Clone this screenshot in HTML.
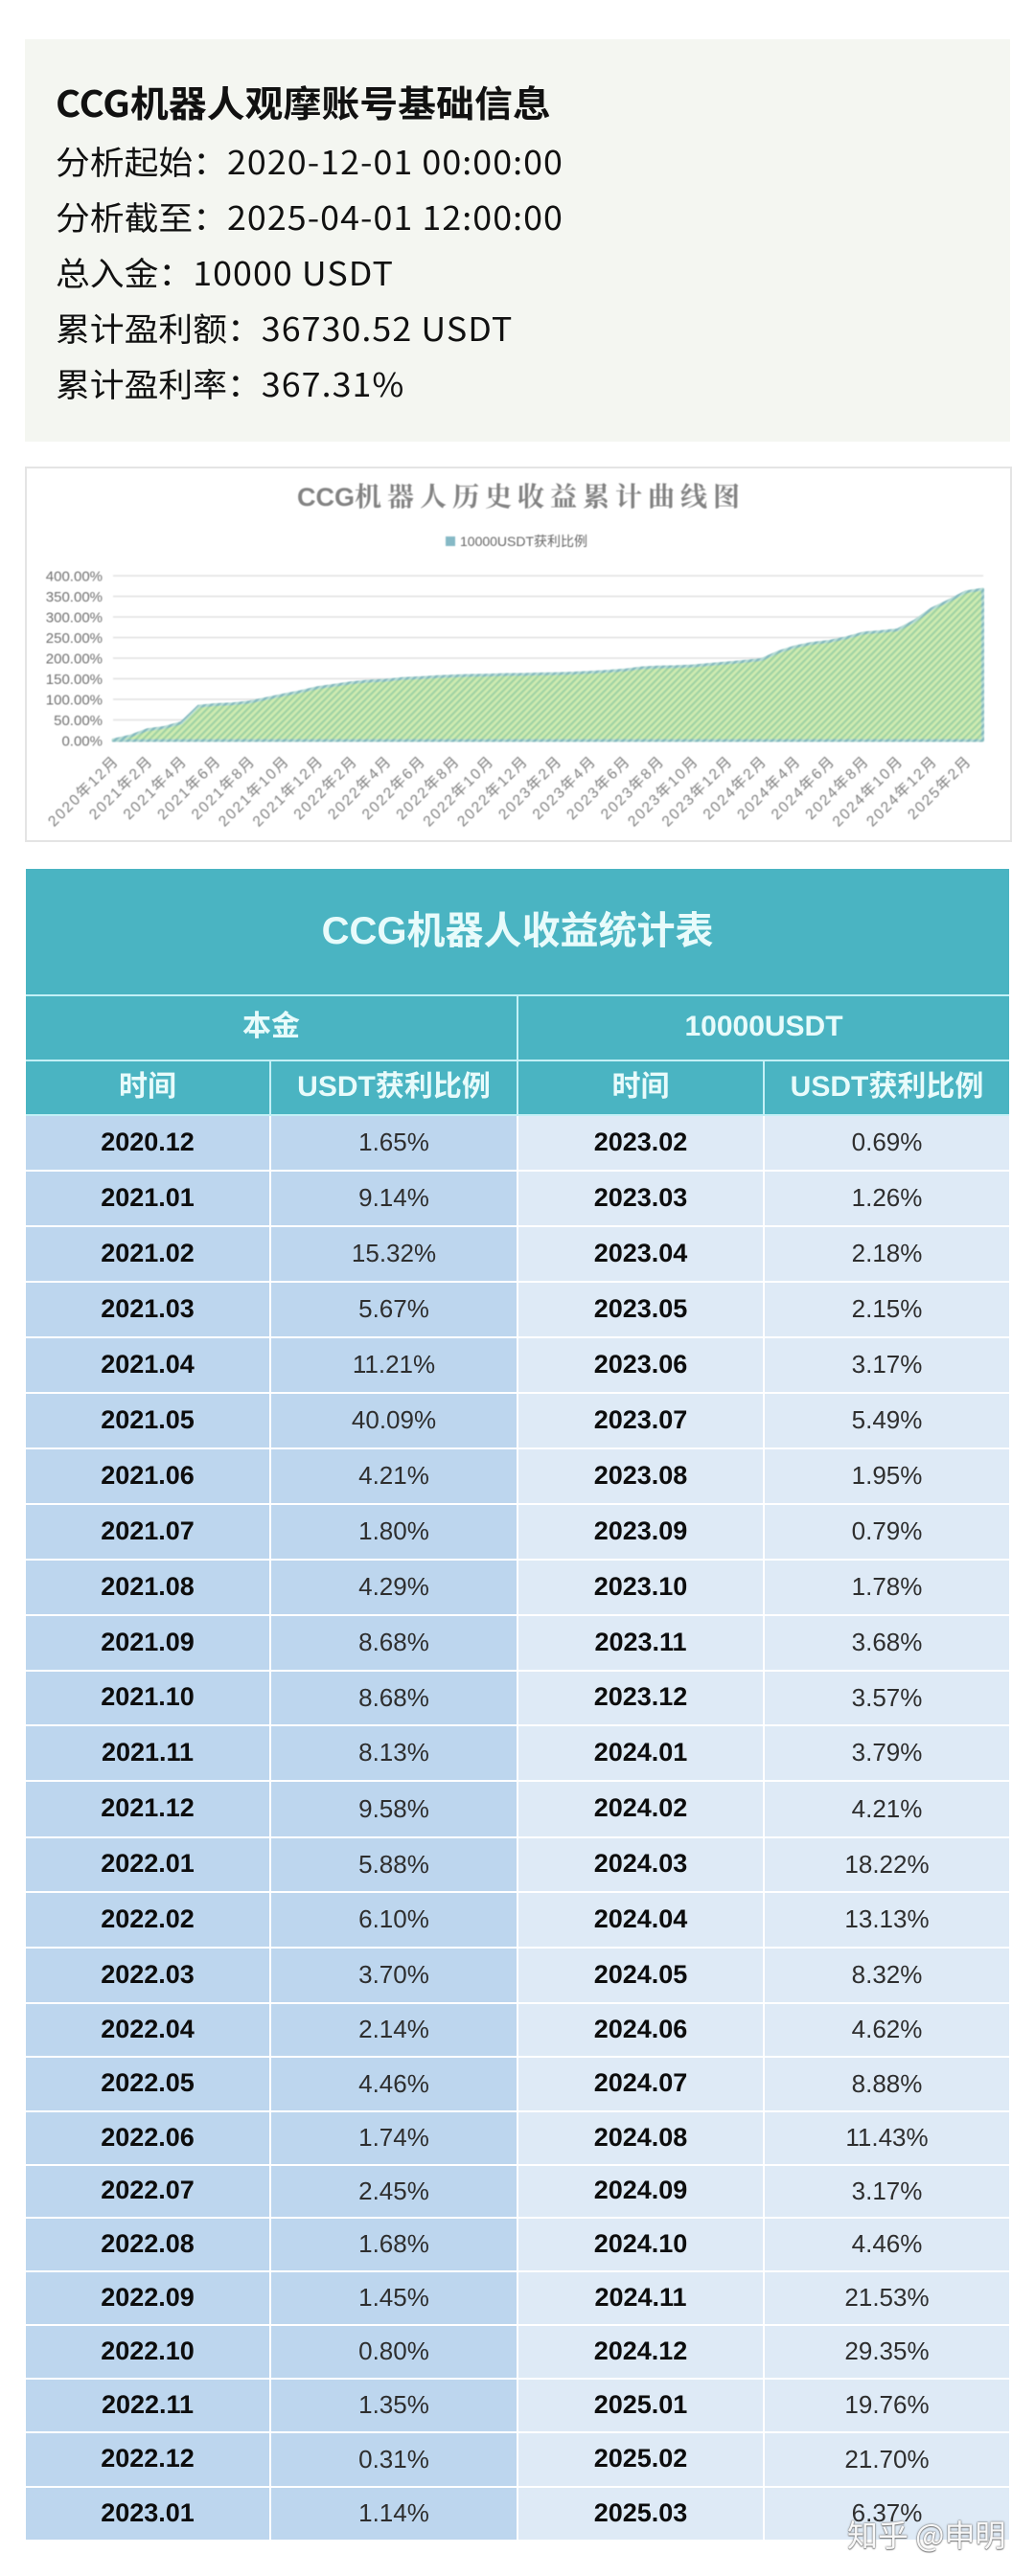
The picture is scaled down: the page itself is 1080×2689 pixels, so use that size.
<!DOCTYPE html>
<html lang="zh-CN">
<head>
<meta charset="utf-8">
<title>CCG机器人收益统计</title>
<style>
html,body{margin:0;padding:0;background:#fff;}
body{width:1080px;height:2689px;position:relative;overflow:hidden;font-family:"Liberation Sans","Noto Sans CJK SC",sans-serif;}
#info-panel{position:absolute;left:26px;top:41px;width:1028px;height:420px;background:#f4f6f1;}
.info-line{position:absolute;left:57.5px;height:50px;line-height:50px;white-space:nowrap;color:#111;font-family:"Noto Sans CJK SC",sans-serif;font-size:34px;transform:scaleX(1.053);transform-origin:left center;filter:blur(.3px);}
.info-line .n{letter-spacing:1px;}
#info-title{font-size:38px;font-weight:700;transform:scaleX(1.05);}
#chart-panel{position:absolute;left:26px;top:487px;width:1026px;height:388px;border:2px solid #e4e4e4;background:#fff;box-sizing:content-box;}
#chart-svg{position:absolute;left:0;top:0;filter:blur(.5px);}
#stats-table{position:absolute;left:27px;top:907px;width:1026px;border-collapse:collapse;table-layout:fixed;}
#stats-table td{padding:0 0 2px 0;text-align:center;vertical-align:middle;border:2px solid #fff;line-height:1;}
#stats-table tr:first-child td{border-top:0;}
#stats-table tr:last-child td{border-bottom:0;}
#stats-table td:first-child{border-left:0;}
#stats-table td:last-child{border-right:0;}
#stats-table .h{background:#4ab4c2;color:#e8fbfb;font-weight:700;font-size:30px;border-color:#c3f0f6;}
#stats-table .t{font-size:40px;}
.dd,.dv{background:#bdd6ee;}
.ld,.lv{background:#deeaf6;}
#stats-table .dd,#stats-table .ld{font-weight:700;font-size:27px;color:#0d0d0d;}
#stats-table .dv,#stats-table .lv{font-size:26px;color:#2e2e2e;}
#watermark{position:absolute;left:884px;top:2624px;font-family:"Noto Sans CJK SC",sans-serif;font-size:32px;line-height:42px;color:rgba(255,255,255,.95);text-shadow:0 0 2px #6f6f6f,0 0 1px #6f6f6f,0 1px 1px #8a8a8a;white-space:nowrap;}
</style>
</head>
<body>

<section id="info-panel"></section>
<div class="info-line" id="info-title" style="top:81px">CCG机器人观摩账号基础信息</div>
<div class="info-line" style="top:143px">分析起始：<span class="n">2020-12-01 00:00:00</span></div>
<div class="info-line" style="top:201px">分析截至：<span class="n">2025-04-01 12:00:00</span></div>
<div class="info-line" style="top:259px">总入金：<span class="n">10000 USDT</span></div>
<div class="info-line" style="top:317px">累计盈利额：<span class="n">36730.52 USDT</span></div>
<div class="info-line" style="top:375px">累计盈利率：<span class="n">367.31%</span></div>

<div id="chart-panel"></div>
<svg id="chart-svg" width="1080" height="900" viewBox="0 0 1080 900" xmlns="http://www.w3.org/2000/svg">
  <defs>
    <pattern id="hatch" width="5" height="5" patternUnits="userSpaceOnUse" patternTransform="rotate(45)">
      <rect width="5" height="5" fill="#cfebb0"></rect>
      <rect width="2.2" height="5" fill="#9fd2a4"></rect>
    </pattern>
    <pattern id="hatch-edge" width="5" height="5" patternUnits="userSpaceOnUse" patternTransform="rotate(45)">
      <rect width="5" height="5" fill="#b7dcd4"></rect>
      <rect width="2.5" height="5" fill="#84b9bf"></rect>
    </pattern>
  </defs>
  <text x="310" y="528" font-size="28" font-weight="700" fill="#828282"><tspan style="font-family:'Liberation Sans',sans-serif" font-size="27" letter-spacing="0">CCG</tspan><tspan style="font-family:'Noto Serif CJK SC',serif" letter-spacing="6">机器人历史收益累计曲线图</tspan></text>
  <rect x="465" y="560" width="10" height="10" fill="#86b9c6"></rect>
  <text x="480" y="570" font-size="14" fill="#666">10000USDT获利比例</text>
  <g id="grid-layer"></g>
  <g id="y-tick-layer"></g>
  <g id="area-layer"></g>
  <g id="x-tick-layer"></g>
</svg>

<table id="stats-table">
<colgroup><col style="width:255px"><col style="width:258px"><col style="width:257px"><col style="width:256px"></colgroup>
<tr style="height:132px"><td colspan="4" class="h t">CCG机器人收益统计表</td></tr>
<tr style="height:68px"><td colspan="2" class="h">本金</td><td colspan="2" class="h">10000USDT</td></tr>
<tr style="height:57px"><td class="h">时间</td><td class="h">USDT获利比例</td><td class="h">时间</td><td class="h">USDT获利比例</td></tr>
<tr style="height:58px"><td class="dd">2020.12</td><td class="dv">1.65%</td><td class="ld">2023.02</td><td class="lv">0.69%</td></tr>
<tr style="height:58px"><td class="dd">2021.01</td><td class="dv">9.14%</td><td class="ld">2023.03</td><td class="lv">1.26%</td></tr>
<tr style="height:58px"><td class="dd">2021.02</td><td class="dv">15.32%</td><td class="ld">2023.04</td><td class="lv">2.18%</td></tr>
<tr style="height:58px"><td class="dd">2021.03</td><td class="dv">5.67%</td><td class="ld">2023.05</td><td class="lv">2.15%</td></tr>
<tr style="height:58px"><td class="dd">2021.04</td><td class="dv">11.21%</td><td class="ld">2023.06</td><td class="lv">3.17%</td></tr>
<tr style="height:58px"><td class="dd">2021.05</td><td class="dv">40.09%</td><td class="ld">2023.07</td><td class="lv">5.49%</td></tr>
<tr style="height:58px"><td class="dd">2021.06</td><td class="dv">4.21%</td><td class="ld">2023.08</td><td class="lv">1.95%</td></tr>
<tr style="height:58px"><td class="dd">2021.07</td><td class="dv">1.80%</td><td class="ld">2023.09</td><td class="lv">0.79%</td></tr>
<tr style="height:58px"><td class="dd">2021.08</td><td class="dv">4.29%</td><td class="ld">2023.10</td><td class="lv">1.78%</td></tr>
<tr style="height:58px"><td class="dd">2021.09</td><td class="dv">8.68%</td><td class="ld">2023.11</td><td class="lv">3.68%</td></tr>
<tr style="height:57px"><td class="dd">2021.10</td><td class="dv">8.68%</td><td class="ld">2023.12</td><td class="lv">3.57%</td></tr>
<tr style="height:58px"><td class="dd">2021.11</td><td class="dv">8.13%</td><td class="ld">2024.01</td><td class="lv">3.79%</td></tr>
<tr style="height:59px"><td class="dd">2021.12</td><td class="dv">9.58%</td><td class="ld">2024.02</td><td class="lv">4.21%</td></tr>
<tr style="height:57px"><td class="dd">2022.01</td><td class="dv">5.88%</td><td class="ld">2024.03</td><td class="lv">18.22%</td></tr>
<tr style="height:58px"><td class="dd">2022.02</td><td class="dv">6.10%</td><td class="ld">2024.04</td><td class="lv">13.13%</td></tr>
<tr style="height:58px"><td class="dd">2022.03</td><td class="dv">3.70%</td><td class="ld">2024.05</td><td class="lv">8.32%</td></tr>
<tr style="height:56px"><td class="dd">2022.04</td><td class="dv">2.14%</td><td class="ld">2024.06</td><td class="lv">4.62%</td></tr>
<tr style="height:57px"><td class="dd">2022.05</td><td class="dv">4.46%</td><td class="ld">2024.07</td><td class="lv">8.88%</td></tr>
<tr style="height:56px"><td class="dd">2022.06</td><td class="dv">1.74%</td><td class="ld">2024.08</td><td class="lv">11.43%</td></tr>
<tr style="height:55px"><td class="dd">2022.07</td><td class="dv">2.45%</td><td class="ld">2024.09</td><td class="lv">3.17%</td></tr>
<tr style="height:56px"><td class="dd">2022.08</td><td class="dv">1.68%</td><td class="ld">2024.10</td><td class="lv">4.46%</td></tr>
<tr style="height:56px"><td class="dd">2022.09</td><td class="dv">1.45%</td><td class="ld">2024.11</td><td class="lv">21.53%</td></tr>
<tr style="height:56px"><td class="dd">2022.10</td><td class="dv">0.80%</td><td class="ld">2024.12</td><td class="lv">29.35%</td></tr>
<tr style="height:56px"><td class="dd">2022.11</td><td class="dv">1.35%</td><td class="ld">2025.01</td><td class="lv">19.76%</td></tr>
<tr style="height:57px"><td class="dd">2022.12</td><td class="dv">0.31%</td><td class="ld">2025.02</td><td class="lv">21.70%</td></tr>
<tr style="height:55px"><td class="dd">2023.01</td><td class="dv">1.14%</td><td class="ld">2025.03</td><td class="lv">6.37%</td></tr>
</table>

<div id="watermark">知乎 @申明</div>

<style>#chart-svg text{font-family:"Liberation Sans","Noto Sans CJK SC",sans-serif;}</style>
<script>
var months = ["2020年12月","2021年1月","2021年2月","2021年3月","2021年4月","2021年5月","2021年6月","2021年7月","2021年8月","2021年9月","2021年10月","2021年11月","2021年12月","2022年1月","2022年2月","2022年3月","2022年4月","2022年5月","2022年6月","2022年7月","2022年8月","2022年9月","2022年10月","2022年11月","2022年12月","2023年1月","2023年2月","2023年3月","2023年4月","2023年5月","2023年6月","2023年7月","2023年8月","2023年9月","2023年10月","2023年11月","2023年12月","2024年1月","2024年2月","2024年3月","2024年4月","2024年5月","2024年6月","2024年7月","2024年8月","2024年9月","2024年10月","2024年11月","2024年12月","2025年1月","2025年2月","2025年3月"];
var cumulativeReturn = [1.65,10.79,26.11,31.78,42.99,83.08,87.29,89.09,93.38,102.06,110.74,118.87,128.45,134.33,140.43,144.13,146.27,150.73,152.47,154.92,156.6,158.05,158.85,160.2,160.51,161.65,162.34,163.6,165.78,167.93,171.1,176.59,178.54,179.33,181.11,184.79,188.36,192.15,196.36,214.58,227.71,236.03,240.65,249.53,260.96,264.13,268.59,290.12,319.47,339.23,360.93,367.3];
var yTicks = [0,50,100,150,200,250,300,350,400];

var NS = "http://www.w3.org/2000/svg";
function xScale(i){ return 118 + (1025.5 - 118) * i / (months.length - 1); }
function yScale(v){ return 773 - (773 - 601) * v / 400; }

var gridLayer = document.getElementById("grid-layer");
var yTickLayer = document.getElementById("y-tick-layer");
yTicks.forEach(function(t){
  var line = document.createElementNS(NS, "line");
  line.setAttribute("x1", 118);
  line.setAttribute("x2", 1026);
  line.setAttribute("y1", yScale(t));
  line.setAttribute("y2", yScale(t));
  line.setAttribute("stroke", "#e0e0e0");
  line.setAttribute("stroke-width", "1.6");
  
  
  gridLayer.appendChild(line);
  var label = document.createElementNS(NS, "text");
  label.setAttribute("x", 107);
  label.setAttribute("y", yScale(t) + 5.5);
  label.setAttribute("text-anchor", "end");
  label.setAttribute("font-size", "15");
  label.setAttribute("fill", "#707070");
  
  
  label.textContent = t.toFixed(2) + "%";
  yTickLayer.appendChild(label);
});

var areaLayer = document.getElementById("area-layer");
var d = "M" + xScale(0) + " " + yScale(0);
cumulativeReturn.forEach(function(v, i){
  d += " L" + xScale(i).toFixed(2) + " " + yScale(v).toFixed(2);
});
d += " L" + xScale(months.length - 1) + " " + yScale(0) + " Z";
var area = document.createElementNS(NS, "path");
area.setAttribute("d", d);
area.setAttribute("fill", "url(#hatch)");
area.setAttribute("stroke", "url(#hatch-edge)");
area.setAttribute("stroke-width", "3");
area.setAttribute("stroke-linejoin", "round");


areaLayer.appendChild(area);

var xTickLayer = document.getElementById("x-tick-layer");
months.forEach(function(m, i){
  if (i % 2 !== 0) return;
  var ax = xScale(i) + 7;
  var ay = 795;
  var tx = document.createElementNS(NS, "text");
  tx.setAttribute("x", ax);
  tx.setAttribute("y", ay);
  tx.setAttribute("text-anchor", "end");
  tx.setAttribute("font-size", "15.5");
  tx.setAttribute("letter-spacing", "1.8");
  tx.setAttribute("fill", "#808080");
  tx.setAttribute("transform", "rotate(-45 " + ax + " " + ay + ")");
  
  
  tx.textContent = m;
  xTickLayer.appendChild(tx);
});
</script>
</body>
</html>
